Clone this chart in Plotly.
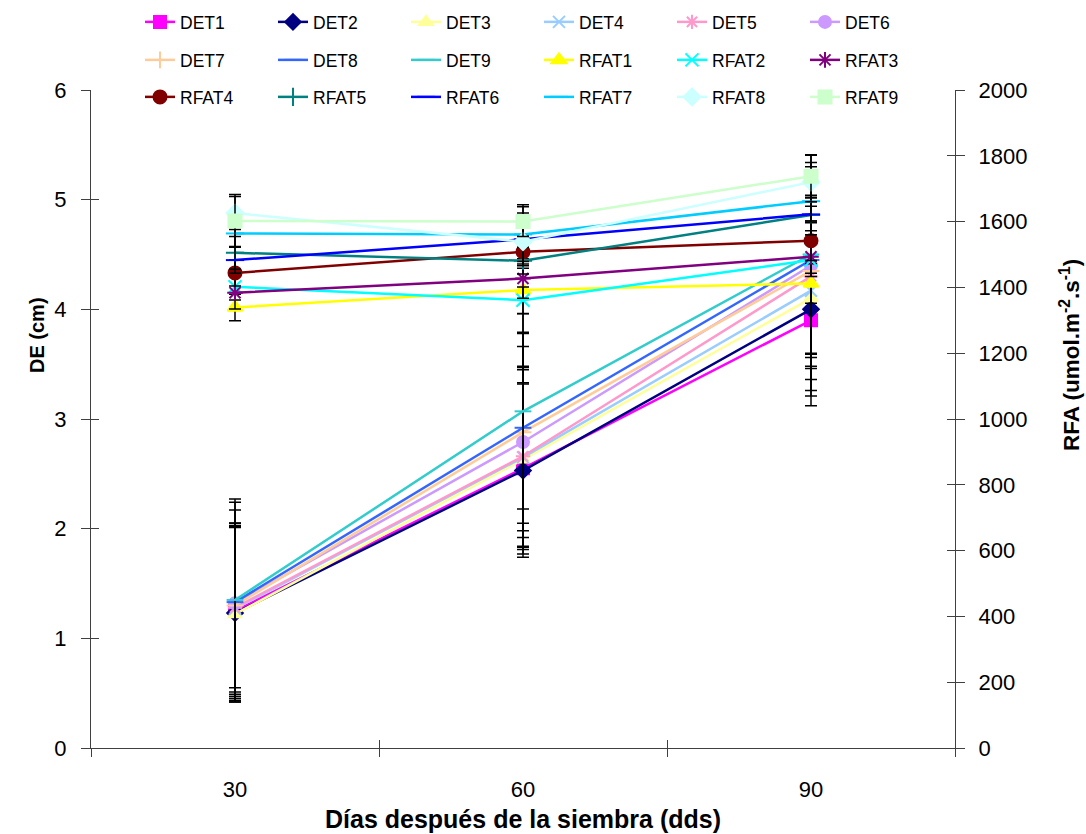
import plotly.graph_objects as go

days = [30, 60, 90]

det_names = ["DET1", "DET2", "DET3", "DET4", "DET5", "DET6", "DET7", "DET8", "DET9"]
det_values = [
    [1.25, 2.55, 3.90],
    [1.23, 2.53, 4.00],
    [1.22, 2.63, 4.10],
    [1.27, 2.65, 4.17],
    [1.28, 2.66, 4.30],
    [1.32, 2.79, 4.40],
    [1.30, 2.88, 4.35],
    [1.33, 2.92, 4.45],
    [1.35, 3.07, 4.50],
]
det_errors = [
    [0.78, 0.78, 0.78],
    [0.78, 0.79, 0.79],
    [0.80, 0.82, 0.84],
    [0.78, 0.82, 0.81],
    [0.77, 0.82, 0.84],
    [0.85, 0.87, 0.84],
    [0.75, 0.90, 0.87],
    [0.91, 0.87, 0.85],
    [0.92, 0.89, 0.91],
]

rfat_names = ["RFAT1", "RFAT2", "RFAT3", "RFAT4", "RFAT5", "RFAT6", "RFAT7", "RFAT8", "RFAT9"]
rfat_values = [
    [1339, 1392, 1412],
    [1402, 1361, 1483],
    [1384, 1427, 1493],
    [1444, 1508, 1542],
    [1505, 1481, 1620],
    [1483, 1546, 1622],
    [1564, 1561, 1662],
    [1626, 1539, 1720],
    [1602, 1600, 1738],
]
rfat_errors = [
    [40, 130, 60],
    [40, 40, 50],
    [50, 60, 50],
    [40, 50, 60],
    [50, 40, 60],
    [40, 80, 50],
    [40, 90, 60],
    [50, 60, 60],
    [80, 45, 64],
]

x_title = "Días después de la siembra (dds)"
y_title = "DE (cm)"
y2_title = "RFA (umol.m<sup>-2</sup>.s<sup>-1</sup>)"

det_colors = ["#FF00FF", "#000080", "#FFFF99", "#99CCFF", "#FF99CC", "#CC99FF", "#FFCC99", "#3366FF", "#33CCCC"]
det_symbols = ["square", "diamond", "triangle-up", "x-thin-open", "asterisk-open", "circle",
               "cross-thin-open", "line-ew-open", "line-ew-open"]
rfat_colors = ["#FFFF00", "#00FFFF", "#800080", "#800000", "#008080", "#0000FF", "#00CCFF", "#CCFFFF", "#CCFFCC"]
rfat_symbols = ["triangle-up", "x-thin-open", "asterisk-open", "circle", "cross-thin-open",
                "line-ew-open", "line-ew-open", "diamond", "square"]

legend_of = (["legend"] * 6 + ["legend2"] * 3 + ["legend2"] * 3 + ["legend3"] * 3 + ["legend3"] * 3)

FONT = "Liberation Sans, Arial, sans-serif"
fig = go.Figure()

for i, name in enumerate(det_names):
    fig.add_trace(go.Scatter(
        x=days, y=det_values[i], name=name, mode="lines+markers",
        line=dict(color=det_colors[i], width=2.5),
        marker=dict(symbol=det_symbols[i], size=12, color=det_colors[i],
                    line=dict(color=det_colors[i], width=2)),
        error_y=dict(type="data", array=det_errors[i], color="black", thickness=1.5, width=6),
        legend=legend_of[i], xaxis="x", yaxis="y",
    ))

for i, name in enumerate(rfat_names):
    fig.add_trace(go.Scatter(
        x=days, y=rfat_values[i], name=name, mode="lines+markers",
        line=dict(color=rfat_colors[i], width=2.5),
        marker=dict(symbol=rfat_symbols[i], size=13, color=rfat_colors[i],
                    line=dict(color=rfat_colors[i], width=2)),
        error_y=dict(type="data", array=rfat_errors[i], color="black", thickness=1.5, width=6),
        legend=legend_of[9 + i], xaxis="x", yaxis="y2",
    ))

# dummy traces to hold the overlay axes that draw the inner half of the cross ticks
fig.add_trace(go.Scatter(x=[None], y=[None], xaxis="x2", yaxis="y3", showlegend=False, hoverinfo="skip"))
fig.add_trace(go.Scatter(x=[None], y=[None], xaxis="x2", yaxis="y4", showlegend=False, hoverinfo="skip"))

AX = "#404040"
tickfont = dict(family=FONT, size=22, color="black")

legend_common = dict(orientation="h", font=dict(family=FONT, size=17.5, color="black"),
                     bgcolor="rgba(0,0,0,0)", entrywidth=88, entrywidthmode="pixels",
                     xref="container", yref="container",
                     xanchor="left", yanchor="middle", itemclick=False, itemdoubleclick=False)

fig.update_layout(
    width=1086, height=834,
    margin=dict(l=91, r=131, t=90, b=86, autoexpand=False),
    paper_bgcolor="white", plot_bgcolor="white",
    showlegend=True,
    xaxis=dict(range=[15, 105], tickvals=days, ticktext=[str(d) for d in days], ticks="",
               showline=True, linecolor=AX, linewidth=1.3, showgrid=False, zeroline=False,
               tickfont=tickfont, ticklabelstandoff=21,
               minor=dict(tickvals=[15, 45, 75, 105], ticks="outside", ticklen=8, tickcolor=AX, tickwidth=1.3),
               title=dict(text="<b>" + x_title + "</b>", font=dict(family=FONT, size=25, color="black"),
                          standoff=9)),
    xaxis2=dict(range=[15, 105], overlaying="x", anchor="y", tickvals=[15, 45, 75, 105], ticks="inside",
                ticklen=8, tickcolor=AX, tickwidth=1.3, showticklabels=False, showline=False,
                showgrid=False, zeroline=False),
    yaxis=dict(range=[0, 6], dtick=1, ticks="outside", ticklen=9, tickcolor=AX, tickwidth=1.3,
               showline=True, linecolor=AX, linewidth=1.3, showgrid=False, zeroline=False,
               tickfont=tickfont, ticklabelstandoff=10),
    yaxis2=dict(range=[0, 2000], dtick=200, overlaying="y", side="right", anchor="x",
                ticks="outside", ticklen=9, tickcolor=AX, tickwidth=1.3,
                showline=True, linecolor=AX, linewidth=1.3, showgrid=False, zeroline=False,
                tickfont=tickfont, ticklabelstandoff=9),
    yaxis3=dict(range=[0, 6], dtick=1, overlaying="y", side="left", anchor="x2", ticks="inside",
                ticklen=8, tickcolor=AX, tickwidth=1.3, showticklabels=False, showline=False,
                showgrid=False, zeroline=False),
    yaxis4=dict(range=[0, 2000], dtick=200, overlaying="y", side="right", anchor="x2", ticks="inside",
                ticklen=8, tickcolor=AX, tickwidth=1.3, showticklabels=False, showline=False,
                showgrid=False, zeroline=False),
    legend=dict(x=140 / 1086, y=1 - 22 / 834, **legend_common),
    legend2=dict(x=140 / 1086, y=1 - 60 / 834, **legend_common),
    legend3=dict(x=140 / 1086, y=1 - 97 / 834, **legend_common),
    annotations=[
        dict(text="<b>" + y_title + "</b>", xref="paper", yref="paper",
             x=(37 - 91) / 864, y=(748 - 335) / 658, xanchor="center", yanchor="middle",
             textangle=-90, showarrow=False, font=dict(family=FONT, size=20, color="black")),
        dict(text="<b>" + y2_title + "</b>", xref="paper", yref="paper",
             x=(1070 - 91) / 864, y=(748 - 355) / 658, xanchor="center", yanchor="middle",
             textangle=-90, showarrow=False, font=dict(family=FONT, size=22.5, color="black")),
    ],
)

fig.write_html("out.html")
